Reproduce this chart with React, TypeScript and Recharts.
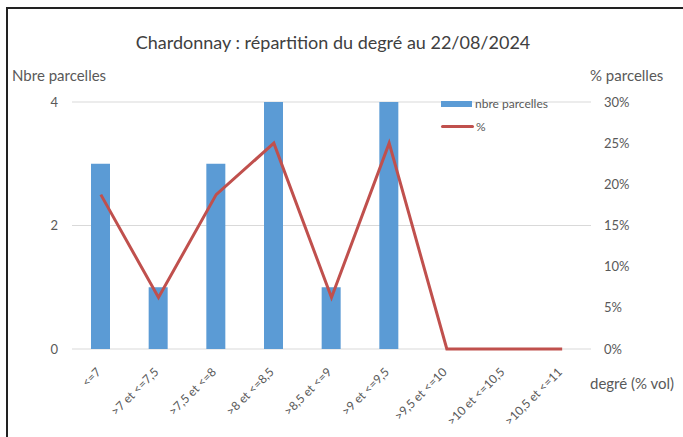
import {
    ComposedChart,
    Bar,
    Line,
    CartesianGrid,
    XAxis,
    YAxis,
} from "recharts";

const categories = [
    "<=7",
    ">7 et <=7,5",
    ">7,5 et <=8",
    ">8 et <=8,5",
    ">8,5 et <=9",
    ">9 et <=9,5",
    ">9,5 et <=10",
    ">10 et <=10,5",
    ">10,5 et <=11",
];
const parcelles = [3, 1, 3, 4, 1, 4, 0, 0, 0];
const pourcentages = [0.1875, 0.0625, 0.1875, 0.25, 0.0625, 0.25, 0, 0, 0];
const leftTicks = [0, 2, 4];
const rightTicks = [0, 0.05, 0.1, 0.15, 0.2, 0.25, 0.3];

const data = categories.map((cat, i) => ({
    cat,
    nb: parcelles[i],
    pct: pourcentages[i],
}));

const FONT = "Lato, 'Noto Sans', sans-serif";
const GREY = "#595959";

function RotatedTick(props: any) {
    const { x, y, payload } = props;
    return (
        <g transform={`translate(${x - 2},${y + 13})`}>
            <text
                transform="rotate(-45)"
                textAnchor="end"
                fontSize={12}
                fontFamily={FONT}
                fill={GREY}
                dy={4}
            >
                {payload.value}
            </text>
        </g>
    );
}

function LegendBox() {
    return (
        <div
            style={{
                position: "absolute",
                left: 441,
                top: 92,
                fontFamily: FONT,
                fontSize: 12,
                color: GREY,
                lineHeight: "23px",
            }}
        >
            <div style={{ display: "flex", alignItems: "center" }}>
                <span style={{ display: "inline-block", width: 31, height: 6, background: "#5B9BD5", marginRight: 3 }} />
                nbre parcelles
            </div>
            <div style={{ display: "flex", alignItems: "center" }}>
                <span style={{ display: "inline-block", width: 33, height: 3, background: "#C0504D", borderRadius: 2, marginRight: 2 }} />
                %
            </div>
        </div>
    );
}

export default function App() {
    return (
        <div
            style={{
                position: "absolute",
                left: 0,
                top: 0,
                width: 683,
                height: 437,
                background: "#fff",
                fontFamily: FONT,
            }}
        >
            <div
                style={{
                    position: "absolute",
                    left: 6,
                    top: 7,
                    right: -4,
                    bottom: -4,
                    borderTop: "2px solid #222",
                    borderLeft: "2px solid #222",
                }}
            />
            <ComposedChart
                width={683}
                height={437}
                data={data}
                margin={{ top: 102, right: 0, bottom: 0, left: 0 }}
            >
                <text x={333} y={49} textAnchor="middle" fontSize={18} fontFamily={FONT} fill="#404040">
                    Chardonnay : répartition du degré au 22/08/2024
                </text>
                <text x={12} y={81} fontSize={15} fontFamily={FONT} fill={GREY}>
                    Nbre parcelles
                </text>
                <text x={590} y={81} fontSize={15} fontFamily={FONT} fill={GREY}>
                    % parcelles
                </text>
                <text x={590} y={389} fontSize={15} fontFamily={FONT} fill={GREY}>
                    degré (% vol)
                </text>
                <CartesianGrid
                    yAxisId="left"
                    vertical={false}
                    stroke="#d9d9d9"
                />
                <XAxis
                    dataKey="cat"
                    interval={0}
                    height={88}
                    tickLine={false}
                    axisLine={false}
                    tick={<RotatedTick />}
                />
                <YAxis
                    yAxisId="left"
                    width={72}
                    domain={[0, 4]}
                    ticks={leftTicks}
                    axisLine={false}
                    tickLine={false}
                    tick={{ fontSize: 13, fill: GREY, fontFamily: FONT }}
                    tickMargin={8}
                />
                <YAxis
                    yAxisId="right"
                    orientation="right"
                    width={92}
                    domain={[0, 0.3]}
                    ticks={rightTicks}
                    axisLine={false}
                    tickLine={false}
                    tickFormatter={(v: number) => `${Math.round(v * 100)}%`}
                    tick={{ fontSize: 13, fill: GREY, fontFamily: FONT }}
                    tickMargin={7}
                />
                <Bar
                    yAxisId="left"
                    dataKey="nb"
                    name="nbre parcelles"
                    fill="#5B9BD5"
                    barSize={19}
                    isAnimationActive={false}
                />
                <Line
                    yAxisId="right"
                    dataKey="pct"
                    name="%"
                    type="linear"
                    stroke="#C0504D"
                    strokeWidth={3}
                    dot={false}
                    activeDot={false}
                    isAnimationActive={false}
                />
            </ComposedChart>
            <LegendBox />
        </div>
    );
}
